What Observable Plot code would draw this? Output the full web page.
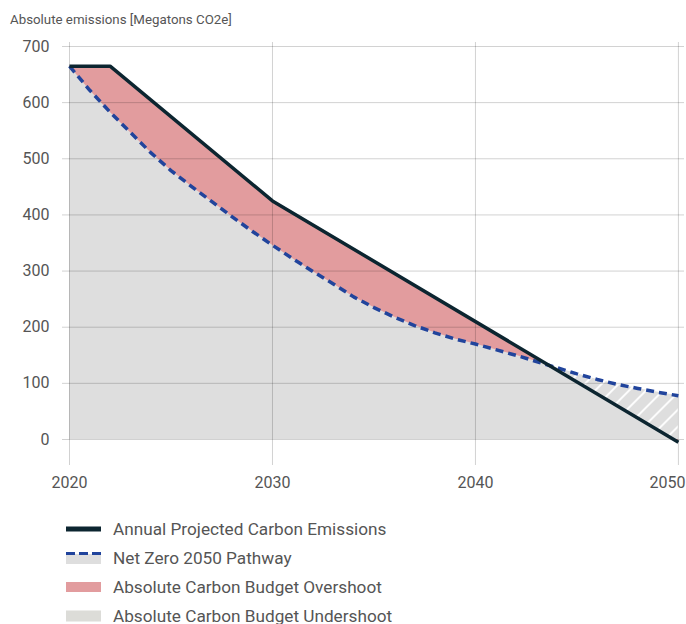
<!DOCTYPE html>
<html>
<head>
<meta charset="utf-8">
<script src="https://cdn.jsdelivr.net/npm/d3@7"></script>
<script src="https://cdn.jsdelivr.net/npm/@observablehq/plot@0.6"></script>
<style>
  body { margin: 0; background: #fff; font-family: Roboto, sans-serif; width: 686px; height: 624px; overflow: hidden; position: relative; }
  #sub { position: absolute; left: 10px; top: 12px; font-size: 13.3px; color: #555; line-height: 16px; }
  #chart { position: absolute; left: 0; top: 0; }
  #legend { position: absolute; left: 66px; top: 514px; }
  .row { display: flex; align-items: center; height: 29px; font-size: 17.2px; color: #555; }
  .row svg { margin-right: 12px; flex: none; }
</style>
</head>
<body>
<div id="chart"></div>
<div id="sub">Absolute emissions [Megatons CO2e]</div>
<div id="legend"></div>
<script>
// ---- data ----
const projYears  = [2020, 2022, 2030, 2050];
const projValues = [665, 665, 425, -5];

const pathYears  = [2020, 2021, 2022, 2023, 2024, 2025, 2026, 2027, 2028, 2029,
                    2030, 2031, 2032, 2033, 2034, 2035, 2036, 2037, 2038, 2039,
                    2040, 2041, 2042, 2043, 2044, 2045, 2046, 2047, 2048, 2049, 2050];
const pathValues = [665, 622, 583, 547, 511, 479, 451, 424, 397, 371,
                    346, 322, 299, 277, 254, 235, 218, 203, 190, 179,
                    170, 160, 150, 139, 128, 117, 107, 98, 91, 84, 78];

const xTicks = [2020, 2030, 2040, 2050];
const yTicks = [0, 100, 200, 300, 400, 500, 600, 700];

const legendLabels = [
  "Annual Projected Carbon Emissions",
  "Net Zero 2050 Pathway",
  "Absolute Carbon Budget Overshoot",
  "Absolute Carbon Budget Undershoot"
];

const colProj = "#0c2530";
const colPath = "#21449c";
const colOver = "#e29c9e";
const colUnder = "#dedede";

const proj = projYears.map((year, i) => ({year, value: projValues[i]}));
const path = pathYears.map((year, i) => ({year, value: pathValues[i]}));

const svg = Plot.plot({
  width: 686,
  height: 500,
  marginTop: 42,
  marginBottom: 35,
  marginLeft: 62,
  marginRight: 2,
  style: {fontFamily: "Roboto, sans-serif", fontSize: "16px", color: "#555", background: "transparent"},
  x: {domain: [2019.655, 2050.3], ticks: xTicks, tickFormat: d => String(d), tickSize: 0, tickPadding: 11, label: null},
  y: {domain: [-46.3, 707.1], ticks: yTicks, tickSize: 0, tickPadding: 13, label: null},
  marks: [
    Plot.areaY(proj, {x: "year", y: "value", fill: colOver}),
    Plot.areaY(path, {x: "year", y: "value", fill: colUnder}),
    Plot.areaY(proj, {x: "year", y1: "value", y2: 707.1, fill: "none", className: "clipsrc"}),
    Plot.areaY(path, {x: "year", y: "value", fill: "url(#hatch)", className: "hatcharea"}),
    Plot.ruleY(yTicks, {stroke: "#000", strokeOpacity: 0.18, strokeWidth: 1}),
    Plot.ruleX(xTicks, {stroke: "#000", strokeOpacity: 0.18, strokeWidth: 1}),
    Plot.line(path, {x: "year", y: "value", stroke: colPath, strokeWidth: 3.5, strokeDasharray: "8,5", strokeLinecap: "butt"}),
    Plot.line(proj, {x: "year", y: "value", stroke: colProj, strokeWidth: 3.5, strokeLinejoin: "miter", strokeLinecap: "butt"})
  ]
});

// hatch pattern and clip (undershoot only where pathway is above projection)
const ns = "http://www.w3.org/2000/svg";
const defs = document.createElementNS(ns, "defs");
defs.innerHTML = '<pattern id="hatch" patternUnits="userSpaceOnUse" width="12" height="12" patternTransform="rotate(45)"><line x1="1" y1="0" x2="1" y2="12" stroke="#fff" stroke-width="1.8"/></pattern>';
const cp = document.createElementNS(ns, "clipPath");
cp.setAttribute("id", "aboveProj");
const src = svg.querySelector("g.clipsrc");
src.querySelectorAll("path").forEach(p => cp.appendChild(p.cloneNode()));
defs.appendChild(cp);
svg.insertBefore(defs, svg.firstChild);
src.remove();
svg.querySelector("g.hatcharea").setAttribute("clip-path", "url(#aboveProj)");

// last x tick label sits flush with the right edge, as in the reference
svg.querySelectorAll("text").forEach(t => {
  if (t.textContent === "2050" && !t.closest("[aria-label='y-axis tick label']")) {
    t.setAttribute("text-anchor", "end");
    t.setAttribute("dx", "7");
  }
});

document.getElementById("chart").appendChild(svg);

// legend
const swatches = [
  `<svg width="35" height="14"><rect x="0" y="4.5" width="35" height="5" fill="${colProj}"/></svg>`,
  `<svg width="35" height="14"><rect x="0" y="3" width="35" height="10" fill="${colUnder}"/><line x1="0" y1="2.5" x2="35" y2="2.5" stroke="${colPath}" stroke-width="3" stroke-dasharray="9,4"/></svg>`,
  `<svg width="35" height="14"><rect x="0" y="2" width="35" height="10" fill="${colOver}"/></svg>`,
  `<svg width="35" height="14"><rect x="0" y="1.5" width="35" height="11" fill="#dcdcd8"/></svg>`
];
const legend = document.getElementById("legend");
legendLabels.forEach((label, i) => {
  const row = document.createElement("div");
  row.className = "row";
  row.innerHTML = swatches[i] + `<span>${label}</span>`;
  legend.appendChild(row);
});
</script>
</body>
</html>
